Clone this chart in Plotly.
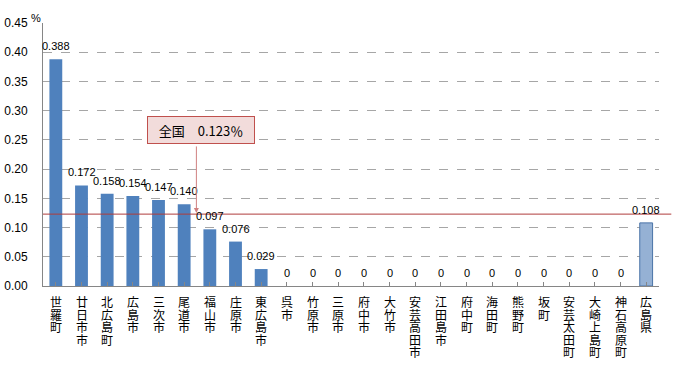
import plotly.graph_objects as go

categories = ["世羅町", "廿日市市", "北広島町", "広島市", "三次市", "尾道市", "福山市", "庄原市",
              "東広島市", "呉市", "竹原市", "三原市", "府中市", "大竹市", "安芸高田市", "江田島市",
              "府中町", "海田町", "熊野町", "坂町", "安芸太田町", "大崎上島町", "神石高原町", "広島県"]
values = [0.388, 0.172, 0.158, 0.154, 0.147, 0.140, 0.097, 0.076, 0.029,
          0, 0, 0, 0, 0, 0, 0, 0, 0, 0, 0, 0, 0, 0, 0.108]
value_labels = ["0.388", "0.172", "0.158", "0.154", "0.147", "0.140", "0.097", "0.076", "0.029",
                "0", "0", "0", "0", "0", "0", "0", "0", "0", "0", "0", "0", "0", "0", "0.108"]
national_value = 0.123
national_label = "全国　0.123％"
y_ticks = [0.00, 0.05, 0.10, 0.15, 0.20, 0.25, 0.30, 0.35, 0.40, 0.45]

BLUE = "#4F81BD"
idx = list(range(len(categories)))

fig = go.Figure()
fig.add_trace(go.Bar(
    x=idx[:-1], y=values[:-1],
    marker=dict(color=BLUE, line=dict(width=0)), width=0.5, hoverinfo="skip",
))
fig.add_trace(go.Bar(
    x=idx[-1:], y=values[-1:],
    marker=dict(color="#A9C0DE", line=dict(width=1, color="#4A74A8"),
                pattern=dict(shape=".", size=2, solidity=0.5, fgcolor="#4A78B0", fillmode="overlay")),
    width=0.5, hoverinfo="skip",
))

# national average line
fig.add_shape(type="line", xref="paper", yref="y", x0=0, x1=1.02, y0=national_value, y1=national_value,
              line=dict(color="#B03C3C", width=1), layer="above")

annotations = []
# value labels above bars
for i, (v, lab) in enumerate(zip(values, value_labels)):
    annotations.append(dict(xref="x", yref="y", x=i, y=v, text=lab, showarrow=False,
                            xanchor="center", yanchor="bottom", yshift=5,
                            font=dict(family="Liberation Sans, Arial", size=11, color="#000000")))
# callout box
annotations.append(dict(xref="paper", yref="y", x=0.2557, y=0.2669, text=national_label, showarrow=False,
                        font=dict(family="Noto Sans CJK JP", size=13, color="#000000"),
                        bgcolor="#F2DCDB", bordercolor="#C0504D", borderwidth=1, borderpad=3,
                        width=100, height=20, xanchor="center", yanchor="middle"))
# arrow
annotations.append(dict(xref="paper", yref="y", x=0.249, y=national_value + 0.002, text="", showarrow=True,
                        ax=0, ay=-68, arrowhead=2, arrowsize=1, arrowwidth=1, arrowcolor="#D08080", standoff=0))
# % label
annotations.append(dict(xref="paper", yref="paper", x=-0.0227, y=1.049, text="%", showarrow=False,
                        font=dict(family="Liberation Sans, Arial", size=11, color="#000000")))
# vertical category labels (one character per line, tightly stacked)
for i, name in enumerate(categories):
    for j, ch in enumerate(name):
        annotations.append(dict(xref="x", yref="paper", x=i, y=0, text=ch, showarrow=False,
                                xanchor="center", yanchor="top", yshift=-5 - j * 12.5,
                                font=dict(family="Noto Sans CJK JP", size=12, color="#000000")))

fig.update_layout(
    width=691, height=365, margin=dict(l=43, r=32, t=23, b=79, autoexpand=False),
    paper_bgcolor="#FFFFFF", plot_bgcolor="#FFFFFF", showlegend=False,
    annotations=annotations, bargap=0.5,
    xaxis=dict(range=[-0.5, len(categories) - 0.5], showticklabels=False, tickmode="array", automargin=False,
               tickvals=idx, tickson="boundaries", ticks="inside", ticklen=4, tickcolor="#868686",
               showline=True, linecolor="#868686", linewidth=1, showgrid=False, zeroline=False, fixedrange=True),
    yaxis=dict(range=[0, 0.45], tickmode="array", tickvals=y_ticks, ticktext=[f"{v:.2f}" for v in y_ticks],
               automargin=False, fixedrange=True,
               showline=True, linecolor="#868686", linewidth=1, ticks="", ticklabelstandoff=12,
               showgrid=True, gridcolor="#A6A6A6", griddash="dash", gridwidth=1, zeroline=False,
               tickfont=dict(family="Liberation Sans, Arial", size=12, color="#000000")),
)

fig.write_html("out.html", config={"displayModeBar": False},
               post_script="document.body.style.margin='0';document.body.style.overflow='hidden';")
